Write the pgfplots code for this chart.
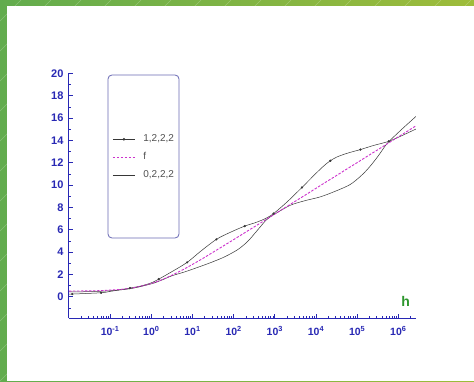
\documentclass[border=0pt]{standalone}
\usepackage{pgfplots}
\pgfplotsset{compat=1.18}
\usepackage{pgfplotstable}
\usepackage{fontspec}
\setmainfont{Liberation Sans}
\definecolor{axisblue}{RGB}{40,40,180}
\definecolor{legframe}{RGB}{105,105,180}
\definecolor{leggray}{RGB}{80,80,80}
\definecolor{curveblack}{RGB}{55,55,55}
\definecolor{fmag}{RGB}{205,50,205}
\definecolor{hgreen}{RGB}{45,150,45}
\definecolor{gL}{RGB}{98,172,78}
\definecolor{gR}{RGB}{158,188,58}

\pgfplotstableread{
h y
0.01 0.24
0.012023 0.245
0.060256 0.36
0.1 0.48
0.17783 0.63
0.30200 0.78
0.56234 0.97
1 1.25
1.5136 1.58
3.1623 2.25
7.4131 3.08
15.849 4.08
38.019 5.14
79.433 5.74
186.21 6.33
338.84 6.64
588.84 7.00
933.25 7.45
1995.3 8.50
4570.9 9.79
10000 11.05
15849 11.75
22387 12.18
31623 12.50
50119 12.78
79433 13.00
120230 13.18
251190 13.55
588840 13.92
1258900 14.45
2691500 15.02
}\dataA

\pgfplotstableread{
h y
0.012023 0.245
0.060256 0.36
0.30200 0.78
1.5136 1.58
7.4131 3.08
38.019 5.14
186.21 6.33
933.25 7.45
4570.9 9.79
22387 12.18
120230 13.18
588840 13.92
}\dotsA

\pgfplotstableread{
h y
0.01 0.51
0.017783 0.52
0.031623 0.53
0.056234 0.55
0.1 0.60
0.17783 0.66
0.31623 0.77
0.56234 0.95
1 1.19
1.7783 1.52
3.1623 1.93
5.6234 2.39
10 2.90
17.783 3.43
31.623 3.99
56.234 4.55
100 5.12
177.83 5.69
316.23 6.26
562.34 6.83
1000 7.41
1778.3 7.98
3162.3 8.56
5623.4 9.13
10000 9.71
17783 10.29
31623 10.86
56234 11.44
100000 12.01
177830 12.59
316230 13.16
562340 13.74
1000000 14.32
1778300 14.89
2691500 15.31
}\dataF

\pgfplotstableread{
h y
0.01 0.44
0.031623 0.46
0.1 0.54
0.31623 0.73
1 1.16
1.7783 1.49
3.1623 1.88
6.7608 2.25
20.893 2.89
39.811 3.29
63.096 3.61
123.03 4.20
194.98 4.78
257.04 5.23
407.38 6.10
630.96 6.90
1000 7.41
2398.8 8.20
5623.4 8.62
12882 8.95
29512 9.45
67608 10.05
125890 10.85
199530 11.62
316230 12.55
489780 13.55
588840 13.90
1258900 15.05
2691500 16.15
}\dataB

\begin{document}
\begin{tikzpicture}[x=1pt,y=1pt]
\shade[left color=gL, right color=gR] (0,0) rectangle (474,381);
\begin{scope}
\clip (0,0) rectangle (474,381);
\foreach \i in {-420,-390,...,480} \draw[white,opacity=0.25,line width=0.6pt] (\i,0) -- ++(381,381);
\end{scope}
\fill[white] (7,0) rectangle (474,375);
\draw[legframe, line width=0.8pt, rounded corners=4pt] (108,143) rectangle (179,306);
\begin{axis}[
  at={(69pt,63pt)}, anchor=south west,
  scale only axis, width=347pt, height=244.6pt,
  xmode=log, log basis x=10,
  xmin=1e-2, xmax=2.6915e6, ymin=-1.9, ymax=20,
  axis lines=left,
  axis line style={-, draw=axisblue, line width=1pt},
  tick align=inside,
  major tick length=4pt, minor tick length=2.5pt,
  every tick/.style={axisblue, line width=0.8pt},
  ytick={0,2,...,20}, minor ytick={-1,1,...,19},
  xtick={1e-1,1,10,100,1e3,1e4,1e5,1e6},
  xticklabels={{10\textsuperscript{-1}},{10\textsuperscript{0}},{10\textsuperscript{1}},{10\textsuperscript{2}},{10\textsuperscript{3}},{10\textsuperscript{4}},{10\textsuperscript{5}},{10\textsuperscript{6}}},
  minor xtick={2e-2,3e-2,4e-2,5e-2,6e-2,7e-2,8e-2,9e-2,2e-1,3e-1,4e-1,5e-1,6e-1,7e-1,8e-1,9e-1,2,3,4,5,6,7,8,9,20,30,40,50,60,70,80,90,200,300,400,500,600,700,800,900,2e3,3e3,4e3,5e3,6e3,7e3,8e3,9e3,2e4,3e4,4e4,5e4,6e4,7e4,8e4,9e4,2e5,3e5,4e5,5e5,6e5,7e5,8e5,9e5,2e6},
  /pgf/number format/assume math mode=true,
  yticklabel style={font=\fontsize{11}{11}\selectfont\bfseries, text=axisblue, xshift=-2pt},
  xticklabel style={font=\fontsize{10.5}{10.5}\selectfont\bfseries, text=axisblue, yshift=-5pt},
  legend style={draw=none, fill=none, at={(0.1248,0.657)}, anchor=west, inner sep=0pt,
    font=\fontsize{10}{10}\selectfont, row sep=9pt,
    nodes={inner sep=0pt, text height=7pt, text depth=2pt, text=leggray}},
  legend cell align=left,
  legend image code/.code={\draw[mark repeat=2,mark phase=2,#1] plot coordinates {(0pt,0pt) (11pt,0pt) (22pt,0pt)}; \path (30pt,0pt);},
]
\addplot[curveblack, line width=0.5pt, smooth, forget plot] table {\dataA};
\addplot[only marks, mark=*, mark size=0.9pt, curveblack, forget plot] table {\dotsA};
\addplot[curveblack, line width=0.5pt, smooth, forget plot] table {\dataB};
\addplot[fmag, line width=0.9pt, dash pattern=on 2.5pt off 1.5pt, smooth, forget plot] table {\dataF};
\addlegendimage{curveblack, line width=0.9pt, mark=*, mark size=0.8pt}
\addlegendentry{1,2,2,2}
\addlegendimage{fmag, line width=0.9pt, dash pattern=on 2.5pt off 1.5pt}
\addlegendentry{f}
\addlegendimage{curveblack, line width=0.9pt}
\addlegendentry{0,2,2,2}
\end{axis}
\node[text=hgreen, font=\fontsize{14}{14}\selectfont\bfseries] at (405.7,80) {h};
\end{tikzpicture}
\end{document}
